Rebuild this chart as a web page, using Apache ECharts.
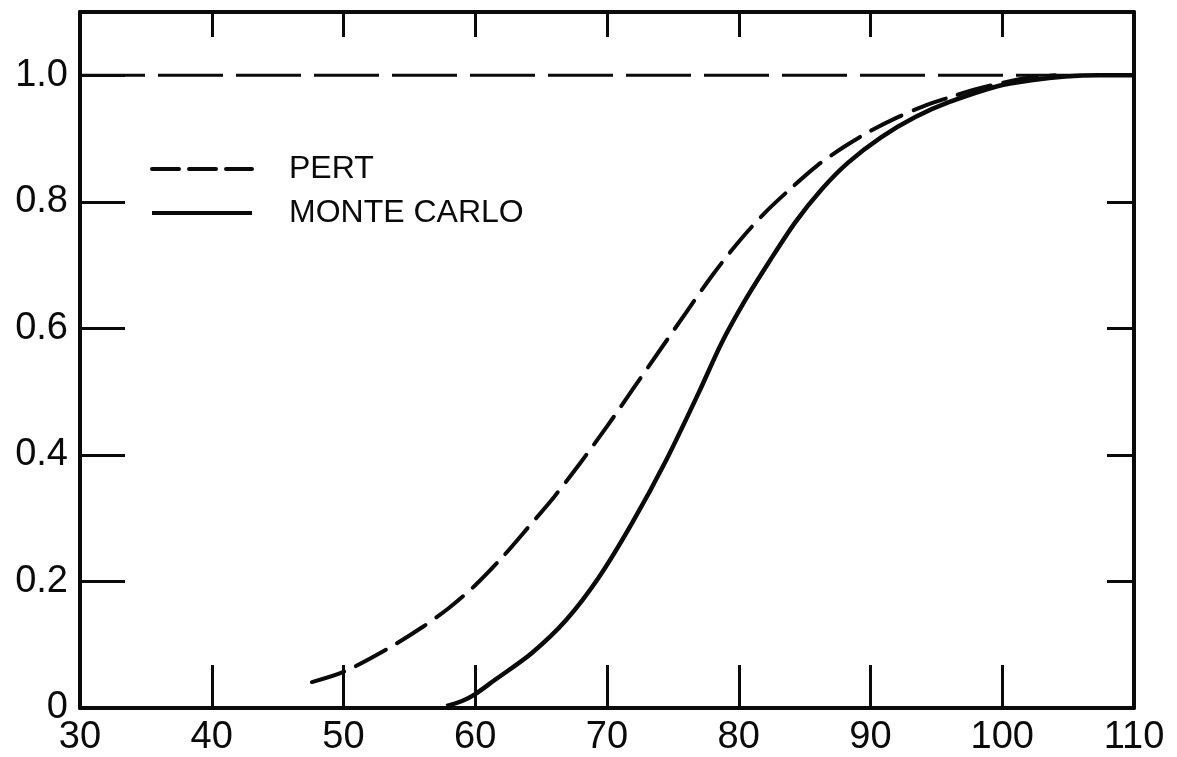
<!DOCTYPE html>
<html>
<head>
<meta charset="utf-8">
<script src="https://cdn.jsdelivr.net/npm/echarts@6/dist/echarts.min.js"></script>
<style>
html,body{margin:0;padding:0;background:#fff;}
#chart{width:1177px;height:757px;}
</style>
</head>
<body>
<div id="chart"></div>
<script>
// x ticks
var xTicks = [30, 40, 50, 60, 70, 80, 90, 100, 110];
// y ticks
var yTicks = [0, 0.2, 0.4, 0.6, 0.8, 1.0];

// PERT cumulative probability (dashed)
var pertX = [47.6, 50.0, 53.3, 56.0, 58.0, 60.0, 62.0, 64.0, 66.0, 68.0, 70.0, 72.0, 74.0, 76.0, 78.0, 80.0, 82.0, 84.0, 86.0, 88.0, 90.0, 92.0, 94.0, 96.0, 98.0, 100.0, 102.0, 104.0];
var pertY = [0.041, 0.057, 0.093, 0.128, 0.158, 0.194, 0.237, 0.285, 0.334, 0.388, 0.445, 0.505, 0.565, 0.625, 0.684, 0.737, 0.783, 0.822, 0.858, 0.887, 0.912, 0.933, 0.951, 0.965, 0.978, 0.988, 0.996, 1.0];

// Monte Carlo cumulative probability (solid)
var mcX = [57.8, 59.0, 60.0, 61.4, 64.3, 66.9, 69.4, 71.9, 74.5, 77.0, 78.7, 80.5, 82.3, 84.3, 86.3, 88.3, 90.8, 93.4, 95.9, 99.7, 102.2, 104.8, 107.3, 110.0];
var mcY = [0.003, 0.011, 0.022, 0.043, 0.087, 0.139, 0.207, 0.292, 0.392, 0.500, 0.577, 0.645, 0.705, 0.768, 0.820, 0.862, 0.902, 0.934, 0.957, 0.983, 0.992, 0.998, 1.0, 1.0];

// reference line at probability 1.0
var refX = [30, 110];
var refY = [1.0, 1.0];

function zip(a, b) { return a.map(function (v, i) { return [v, b[i]]; }); }

var chart = echarts.init(document.getElementById('chart'), null, {renderer: 'canvas'});
var INK = '#0a0a0a';
var digitFont = '"Liberation Sans", Arial, sans-serif';

var option = {
  backgroundColor: '#ffffff',
  animation: false,
  color: [INK, INK, INK],
  grid: {left: 80, right: 43, top: 12, bottom: 49, containLabel: false},
  legend: {
    orient: 'vertical',
    left: 145,
    top: 148,
    itemWidth: 100,
    itemHeight: 20,
    itemGap: 12,
    selectedMode: false,
    textStyle: {fontSize: 32, color: INK, fontFamily: digitFont, padding: [0, 0, 0, 32]},
    data: [
      {name: 'PERT', itemStyle: {opacity: 0}, lineStyle: {type: [27, 10], width: 4, color: INK, opacity: 1}},
      {name: 'MONTE CARLO', itemStyle: {opacity: 0}, lineStyle: {type: 'solid', width: 4, color: INK, opacity: 1}}
    ]
  },
  xAxis: [{
    type: 'value', min: xTicks[0], max: xTicks[xTicks.length - 1], interval: 10, position: 'bottom',
    axisLine: {show: true, onZero: false, lineStyle: {color: INK, width: 4}},
    axisTick: {show: true, inside: true, length: 43, lineStyle: {color: INK, width: 3}},
    axisLabel: {show: true, fontSize: 38, color: INK, fontFamily: digitFont, margin: 11},
    splitLine: {show: false}
  }, {
    type: 'value', min: xTicks[0], max: xTicks[xTicks.length - 1], interval: 10, position: 'top',
    axisLine: {show: true, onZero: false, lineStyle: {color: INK, width: 4}},
    axisTick: {show: true, inside: true, length: 25, lineStyle: {color: INK, width: 3}},
    axisLabel: {show: false},
    splitLine: {show: false}
  }],
  yAxis: [{
    type: 'value', min: 0, max: 1.1, interval: 0.2, position: 'left',
    axisLine: {show: true, onZero: false, lineStyle: {color: INK, width: 4}},
    axisTick: {show: true, inside: true, length: 45, lineStyle: {color: INK, width: 3}},
    axisLabel: {show: true, fontSize: 38, color: INK, fontFamily: digitFont, margin: 12, showMaxLabel: false,
      formatter: function (v) {
        if (yTicks.indexOf(Math.round(v * 10) / 10) < 0 || Math.abs(v - 1.1) < 1e-6) return '';
        return v === 0 ? '0' : v.toFixed(1);
      }},
    splitLine: {show: false}
  }, {
    type: 'value', min: 0, max: 1.1, interval: 0.2, position: 'right',
    axisLine: {show: true, onZero: false, lineStyle: {color: INK, width: 4}},
    axisTick: {show: true, inside: true, length: 27, lineStyle: {color: INK, width: 3}},
    axisLabel: {show: false},
    splitLine: {show: false}
  }],
  series: [{
    name: 'ref',
    type: 'line',
    xAxisIndex: 0, yAxisIndex: 0,
    data: zip(refX, refY),
    symbol: 'none',
    silent: true,
    itemStyle: {color: INK},
    lineStyle: {color: INK, width: 3, type: [65, 13]},
    z: 1
  }, {
    name: 'PERT',
    type: 'line',
    xAxisIndex: 0, yAxisIndex: 0,
    data: zip(pertX, pertY),
    symbol: 'none',
    smooth: 0.3,
    itemStyle: {color: INK},
    lineStyle: {color: INK, width: 4, type: [34, 13], cap: 'round'},
    z: 3
  }, {
    name: 'MONTE CARLO',
    type: 'line',
    xAxisIndex: 0, yAxisIndex: 0,
    data: zip(mcX, mcY),
    symbol: 'none',
    smooth: 0.3,
    itemStyle: {color: INK},
    lineStyle: {color: INK, width: 4.5, type: 'solid'},
    z: 2
  }]
};
chart.setOption(option);
</script>
</body>
</html>
